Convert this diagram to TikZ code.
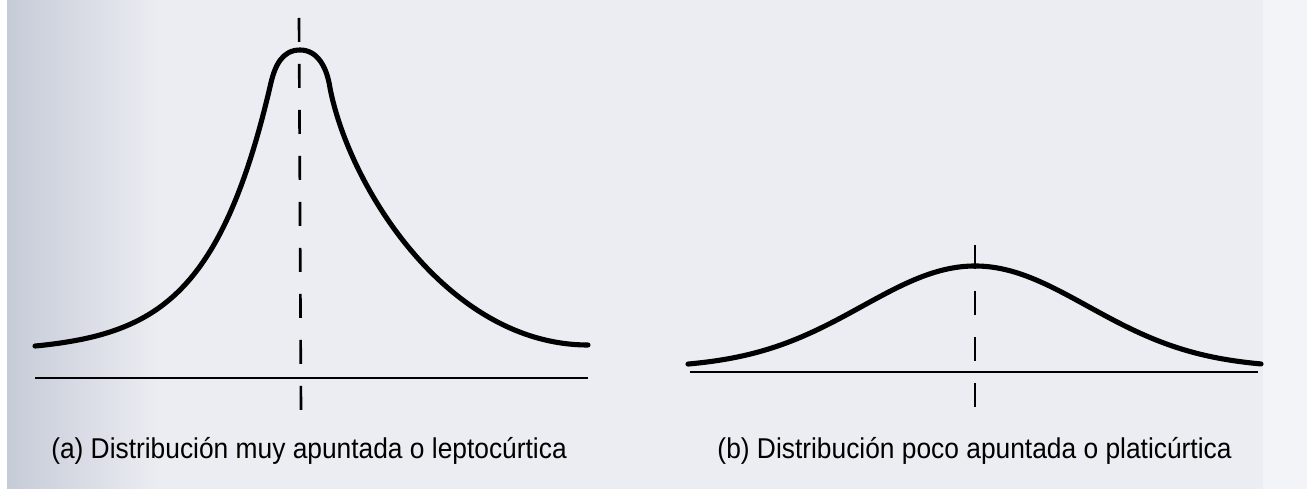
\documentclass[tikz,border=0pt]{standalone}
\usepackage{fontspec}
\newfontfamily\capfont[FakeStretch=0.92]{Liberation Sans}
\definecolor{scanbg}{RGB}{236,237,242}
\definecolor{scanedge}{RGB}{198,203,216}
\definecolor{scanright}{RGB}{243,244,247}

\begin{document}
\begin{tikzpicture}[x=0.02cm, y=-0.02cm,
    curva/.style={line width=2.9pt, line cap=round, line join=round},
    eje/.style={line width=1.3pt},
    media/.style={line width=1.5pt, dash pattern=on 0.48cm off 0.44cm},
    pie/.style={font=\capfont\fontsize{16.3}{19}\selectfont, anchor=base}]
    \useasboundingbox (0,0) rectangle (1307,489);

    % 1. fondo del papel escaneado
    \fill[white] (0,0) rectangle (7,489);
    \fill[scanbg] (7,0) rectangle (1263,489);
    \shade[left color=scanedge, right color=scanbg] (7,0) rectangle (160,489);
    \fill[scanright] (1263,0) rectangle (1307,489);

    % 2. (a) curva leptocurtica: cola exponencial, cima redondeada
    \draw[curva, domain=-265:-29, samples=80]
        plot ({300+\x}, {352 - 430*exp(\x/62)})
        .. controls (275,66) and (282,50) .. (300,50)
        .. controls (318,50) and (327,68) .. (330,88)
        .. controls (350,190) and (450,345) .. (588,345);
    \draw[eje] (35,378) -- (588,378);
    \coordinate (mediaAtop) at (299,18);
    \coordinate (mediaAbot) at (301,411);
    \draw[media] (mediaAtop) -- (mediaAbot);
    \node[pie] (pieA) at (309,458) {(a) Distribución muy apuntada o leptocúrtica};

    % 3. (b) curva platicurtica
    \draw[curva, domain=-287:286, samples=150]
        plot ({975+\x}, {368 - 102*exp(-0.5*(\x/112.6)^2)});
    \draw[eje] (690,372) -- (1258,372);
    \coordinate (mediaBtop) at (975,245);
    \coordinate (mediaBbot) at (975,408);
    \draw[media] (mediaBtop) -- (mediaBbot);
    \node[pie] (pieB) at (974.5,458) {(b) Distribución poco apuntada o platicúrtica};
\end{tikzpicture}
\end{document}
